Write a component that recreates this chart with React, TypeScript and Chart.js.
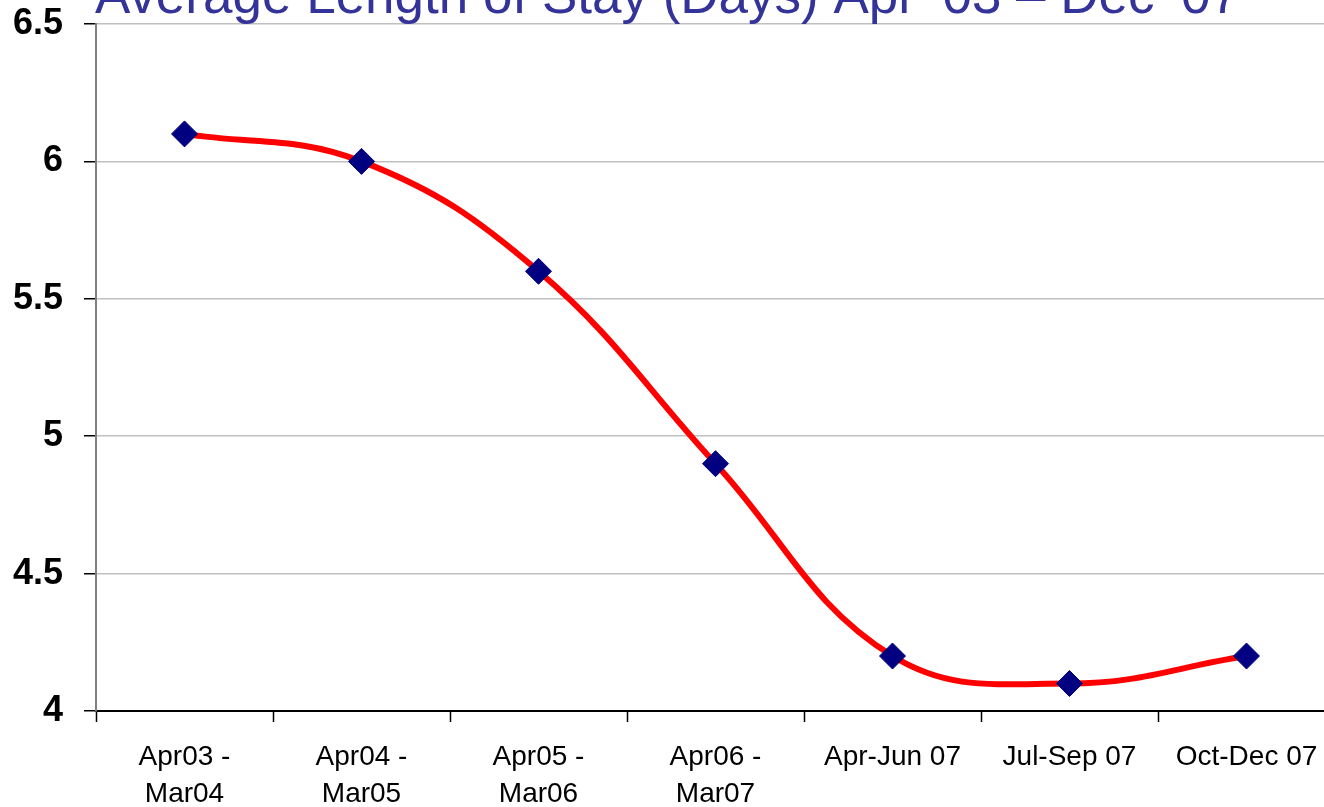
import React, { useEffect, useRef } from "react";
import { Chart, registerables } from "chart.js";

Chart.register(...registerables);

const titleText = "Average Length of Stay (Days) Apr \u201803 \u2013 Dec \u201807";
const categories: string[][] = [
  ["Apr03 -", "Mar04"],
  ["Apr04 -", "Mar05"],
  ["Apr05 -", "Mar06"],
  ["Apr06 -", "Mar07"],
  ["Apr-Jun 07"],
  ["Jul-Sep 07"],
  ["Oct-Dec 07"],
];
const losValues = [6.1, 6.0, 5.6, 4.9, 4.2, 4.1, 4.2];
const yMin = 4;
const yMax = 6.5;
const yStep = 0.5;

export default function App() {
  const ref = useRef<HTMLCanvasElement | null>(null);

  useEffect(() => {
    if (!ref.current) return;
    const chart = new Chart(ref.current, {
      type: "line",
      data: {
        labels: categories,
        datasets: [
          {
            data: losValues,
            borderColor: "#ff0000",
            borderWidth: 6,
            tension: 0.4,
            pointStyle: "rectRot",
            pointRadius: 13,
            pointBackgroundColor: "#000080",
            pointBorderColor: "#000080",
            pointBorderWidth: 1,
            clip: false,
          },
        ],
      },
      options: {
        responsive: false,
        animation: false,
        devicePixelRatio: 1,
        layout: { padding: 0, autoPadding: false },
        plugins: {
          legend: { display: false },
          tooltip: { enabled: false },
          title: {
            display: true,
            text: titleText,
            color: "#333399",
            font: { family: "Liberation Sans", size: 53, weight: "normal", lineHeight: 0.96 },
            padding: { top: 13, bottom: 0.1 },
          },
        },
        scales: {
          x: {
            type: "category",
            offset: true,
            grid: {
              display: true,
              drawOnChartArea: false,
              offset: true,
              tickLength: 11,
              tickColor: "#000",
              tickWidth: 1.5,
            },
            border: { display: true, color: "#000", width: 2 },
            ticks: {
              color: "#000",
              padding: 17,
              maxRotation: 0,
              autoSkip: false,
              font: { family: "Liberation Sans", size: 28, lineHeight: 1.32 },
            },
            afterFit: (s: any) => {
              s.height = 100;
              s.paddingLeft = 0;
              s.paddingRight = 0;
            },
          },
          y: {
            min: yMin,
            max: yMax,
            grid: {
              color: "#c0c0c0",
              lineWidth: 1.5,
              tickLength: 12,
              tickColor: "#000",
              tickWidth: 1.5,
            },
            border: { display: true, color: "#808080", width: 2 },
            ticks: {
              stepSize: yStep,
              color: "#000",
              padding: 21,
              font: { family: "Liberation Sans", size: 36, weight: "bold" },
              callback: (v: any) => String(Number(v)),
            },
            afterFit: (s: any) => {
              s.width = 96;
            },
          },
        },
      },
    });
    return () => chart.destroy();
  }, []);

  return (
    <div
      style={{
        position: "fixed",
        left: 0,
        top: 0,
        width: 1324,
        height: 807,
        overflow: "hidden",
        background: "#fff",
      }}
    >
      <canvas
        ref={ref}
        width={1335}
        height={851}
        style={{ position: "absolute", left: 0, top: -40, width: 1335, height: 851 }}
      />
    </div>
  );
}
